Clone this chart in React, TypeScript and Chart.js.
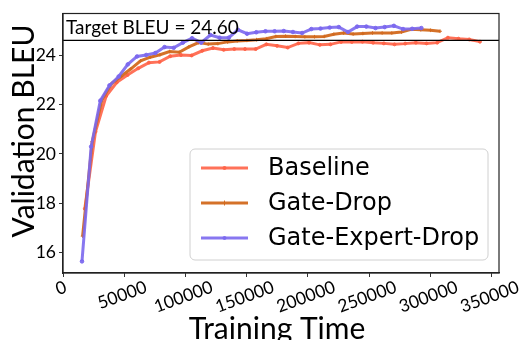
import React, { useEffect, useRef } from "react";
import { Chart, registerables } from "chart.js";

Chart.register(...registerables);

const seriesNames = ["Baseline", "Gate-Drop", "Gate-Expert-Drop"];
const seriesColors = ["rgba(255,99,71,0.9)", "rgba(210,105,30,0.95)", "rgba(123,104,238,0.9)"];

const baselineTime = [17800, 26520, 35240, 43960, 52680, 61400, 70120, 78840, 87560, 96280, 105000, 113720, 122440, 131160, 139880, 148600, 157320, 166040, 174760, 183480, 192200, 200920, 209640, 218360, 227080, 235800, 244520, 253240, 261960, 270680, 279400, 288120, 296840, 305560, 314280, 323000, 331720, 340440];
const baselineBleu = [17.78, 20.9, 22.35, 22.9, 23.2, 23.47, 23.7, 23.73, 23.96, 24.01, 23.99, 24.18, 24.29, 24.22, 24.25, 24.25, 24.25, 24.44, 24.38, 24.31, 24.48, 24.51, 24.42, 24.44, 24.54, 24.54, 24.55, 24.51, 24.48, 24.44, 24.47, 24.51, 24.48, 24.51, 24.71, 24.67, 24.64, 24.55];

const gateDropTime = [16000, 23890, 31780, 39670, 47560, 55450, 63340, 71230, 79120, 87010, 94900, 102790, 110680, 118570, 126460, 134350, 142240, 150130, 158020, 165910, 173800, 181690, 189580, 197470, 205360, 213250, 221140, 229030, 236920, 244810, 252700, 260590, 268480, 276370, 284260, 292150, 300040, 307930];
const gateDropBleu = [16.67, 20.5, 22.2, 22.85, 23.15, 23.45, 23.77, 23.92, 24.02, 24.15, 24.12, 24.34, 24.51, 24.45, 24.47, 24.54, 24.58, 24.6, 24.63, 24.67, 24.76, 24.77, 24.76, 24.75, 24.75, 24.76, 24.85, 24.9, 24.86, 24.88, 24.9, 24.9, 24.9, 24.94, 25.05, 25.03, 25.01, 24.97];

const gateExpertTime = [15500, 22990, 30480, 37970, 45460, 52950, 60440, 67930, 75420, 82910, 90400, 97890, 105380, 112870, 120360, 127850, 135340, 142830, 150320, 157810, 165300, 172790, 180280, 187770, 195260, 202750, 210240, 217730, 225220, 232710, 240200, 247690, 255180, 262670, 270160, 277650, 285140, 292630];
const gateExpertBleu = [15.65, 20.3, 22.16, 22.78, 23.14, 23.63, 23.95, 24.01, 24.09, 24.33, 24.3, 24.51, 24.69, 24.51, 24.82, 24.71, 24.71, 25.03, 24.87, 24.93, 24.97, 24.97, 24.98, 24.94, 24.9, 25.06, 25.08, 25.12, 25.14, 24.94, 25.16, 25.16, 25.1, 25.14, 25.19, 25.06, 25.07, 25.1];

const targetBleu = 24.6;
const xTicks = [0, 50000, 100000, 150000, 200000, 250000, 300000, 350000];
const yTicks = [16, 18, 20, 22, 24];

const TICK_FONT = "Lato, 'DejaVu Sans', sans-serif";
const LEGEND_FONT = "'DejaVu Sans', sans-serif";

const zip = (xs: number[], ys: number[]) => xs.map((x, i) => ({ x, y: ys[i] }));

const overlayPlugin = {
  id: "overlay",
  afterDatasetsDraw(chart: any) {
    const { ctx, chartArea, scales } = chart;
    const yPix = scales.y.getPixelForValue(targetBleu);
    ctx.save();
    ctx.strokeStyle = "#000";
    ctx.lineWidth = 1.2;
    ctx.beginPath();
    ctx.moveTo(chartArea.left, yPix);
    ctx.lineTo(chartArea.right, yPix);
    ctx.stroke();
    ctx.fillStyle = "#000";
    ctx.font = `19px ${TICK_FONT}`;
    ctx.textAlign = "left";
    ctx.textBaseline = "alphabetic";
    ctx.fillText(`Target BLEU = ${targetBleu.toFixed(2)}`, chartArea.left + 3, yPix - 6);
    ctx.restore();
  },
  afterDraw(chart: any) {
    const { ctx, chartArea, scales } = chart;
    ctx.save();
    // frame
    ctx.strokeStyle = "#222";
    ctx.lineWidth = 1.2;
    ctx.strokeRect(chartArea.left, chartArea.top, chartArea.right - chartArea.left, chartArea.bottom - chartArea.top);

    // x tick labels rotated
    const ang = (20 * Math.PI) / 180;
    ctx.font = `17.5px ${TICK_FONT}`;
    ctx.fillStyle = "#000";
    ctx.textAlign = "center";
    ctx.textBaseline = "middle";
    const top = chartArea.bottom + 7;
    const h = 14;
    xTicks.forEach((v) => {
      const label = String(v);
      const w = ctx.measureText(label).width;
      const bh = w * Math.sin(ang) + h * Math.cos(ang);
      const cx = scales.x.getPixelForValue(v) - 2;
      const cy = top + bh / 2;
      ctx.save();
      ctx.translate(cx, cy);
      ctx.rotate(-ang);
      ctx.fillText(label, 0, 0);
      ctx.restore();
    });

    // axis titles
    ctx.font = `30px ${TICK_FONT}`;
    ctx.textAlign = "center";
    ctx.textBaseline = "alphabetic";
    ctx.fillText("Training Time", (chartArea.left + chartArea.right) / 2 - 4, 339);
    ctx.save();
    ctx.translate(34, 131);
    ctx.rotate(-Math.PI / 2);
    ctx.fillText("Validation BLEU", 0, 0);
    ctx.restore();

    // legend
    const lx = 190, ly = 149, lw = 298, lh = 111, r = 5;
    ctx.beginPath();
    ctx.moveTo(lx + r, ly);
    ctx.arcTo(lx + lw, ly, lx + lw, ly + lh, r);
    ctx.arcTo(lx + lw, ly + lh, lx, ly + lh, r);
    ctx.arcTo(lx, ly + lh, lx, ly, r);
    ctx.arcTo(lx, ly, lx + lw, ly, r);
    ctx.closePath();
    ctx.fillStyle = "rgba(255,255,255,0.85)";
    ctx.fill();
    ctx.strokeStyle = "#d0d0d0";
    ctx.lineWidth = 1;
    ctx.stroke();
    const rows = [168, 203, 238];
    ctx.font = `24px ${LEGEND_FONT}`;
    ctx.textAlign = "left";
    ctx.textBaseline = "middle";
    seriesNames.forEach((name, i) => {
      const y = rows[i];
      ctx.strokeStyle = seriesColors[i];
      ctx.lineWidth = 3;
      ctx.beginPath();
      ctx.moveTo(201, y);
      ctx.lineTo(248, y);
      ctx.stroke();
      ctx.fillStyle = seriesColors[i];
      if (i === 1) {
        ctx.lineWidth = 1;
        ctx.beginPath();
        ctx.moveTo(224.5, y - 2.5);
        ctx.lineTo(224.5, y + 2.5);
        ctx.stroke();
      } else {
        ctx.beginPath();
        ctx.arc(224.5, y, 2, 0, Math.PI * 2);
        ctx.fill();
      }
      ctx.fillStyle = "#000";
      ctx.fillText(name, 268, y + 1);
    });
    ctx.restore();
  },
};

export default function App() {
  const ref = useRef<HTMLCanvasElement | null>(null);
  useEffect(() => {
    document.body.style.margin = "0";
    const canvas = ref.current!;
    const datasets = [
      { data: zip(baselineTime, baselineBleu), pointStyle: "circle", pointRadius: 1.5, order: 3 },
      { data: zip(gateDropTime, gateDropBleu), pointStyle: "cross", pointRadius: 1.8, order: 2 },
      { data: zip(gateExpertTime, gateExpertBleu), pointStyle: "circle", pointRadius: 1.8, order: 1 },
    ].map((d, i) => ({
      label: seriesNames[i],
      ...d,
      borderColor: seriesColors[i],
      backgroundColor: seriesColors[i],
      pointBorderWidth: 1,
      borderWidth: 3,
      tension: 0,
    }));
    const chart = new Chart(canvas, {
      type: "line",
      data: { datasets },
      plugins: [overlayPlugin],
      options: {
        animation: false,
        responsive: false,
        layout: { padding: { left: 0, right: 31, top: 5, bottom: 0 } },
        plugins: { legend: { display: false }, tooltip: { enabled: false } },
        scales: {
          x: {
            type: "linear",
            min: 0,
            max: 356000,
            afterBuildTicks: (s: any) => { s.ticks = xTicks.map((v) => ({ value: v })); },
            afterFit: (s: any) => { s.height = 67; },
            ticks: { display: false },
            grid: { display: true, drawOnChartArea: false, drawTicks: true, tickLength: 4, color: "#333" },
            border: { display: true, color: "#222", width: 1.2 },
          },
          y: {
            type: "linear",
            min: 15.18,
            max: 25.69,
            afterBuildTicks: (s: any) => { s.ticks = yTicks.map((v) => ({ value: v })); },
            afterFit: (s: any) => { s.width = 63; },
            ticks: { color: "#000", font: { size: 17.5, family: TICK_FONT }, padding: 3 },
            grid: { display: true, drawOnChartArea: false, drawTicks: true, tickLength: 4, color: "#333" },
            border: { display: true, color: "#222", width: 1.2 },
          },
        },
      },
    } as any);
    return () => chart.destroy();
  }, []);
  return (
    <div style={{ width: 530, height: 340 }}>
      <canvas ref={ref} width={530} height={340} style={{ display: "block" }} />
    </div>
  );
}
